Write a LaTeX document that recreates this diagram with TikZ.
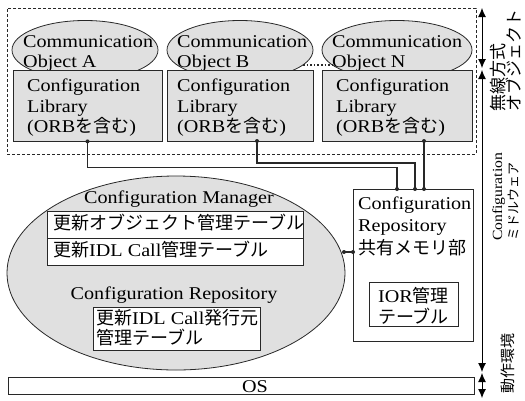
\documentclass[tikz,border=0pt]{standalone}
\usepackage{fontspec}
\setmainfont[FakeStretch=1.12]{Liberation Serif}
\newfontfamily\jpf{Noto Sans CJK JP}
\newcommand{\jp}[1]{{\jpf #1}}
\usetikzlibrary{shapes.geometric,arrows.meta}
\definecolor{hatch}{RGB}{224,224,224}
\definecolor{ink}{RGB}{40,40,40}
\begin{document}
\begin{tikzpicture}[x=1pt,y=-1pt,
  obj/.style={ellipse, draw=ink, fill=hatch, inner sep=0, line width=0.8pt},
  libbox/.style={rectangle, draw=ink, fill=hatch, inner sep=0, line width=0.8pt},
  wbox/.style={rectangle, draw=ink, fill=white, inner sep=0, line width=0.8pt},
  txt/.style={inner sep=0, anchor=base west, font=\fontsize{18}{21}\selectfont},
  ctxt/.style={inner sep=0, anchor=base, font=\fontsize{18}{21}\selectfont},
  conn/.style={draw=ink, line width=1.3pt},
  dot/.style={fill=ink},
  span/.style={draw=black, line width=0.9pt, {Latex[length=9pt,width=8pt]}-{Latex[length=9pt,width=8pt]}},
  side/.style={inner sep=0, rotate=90, anchor=base west}
]
\useasboundingbox (0,0) rectangle (525,400);
\fill[white] (0,0) rectangle (525,400);

% wireless object frame
\node[draw=ink, dashed, dash pattern=on 3pt off 2pt, line width=0.7pt, minimum width=469, minimum height=146, inner sep=0] (wl) at (241.5,81) {};

% communication objects
\node[obj, minimum width=146, minimum height=59] (eA) at (85,50) {};
\node[obj, minimum width=146, minimum height=59] (eB) at (240,50) {};
\node[obj, minimum width=150, minimum height=59] (eN) at (397,50) {};
\coordinate (dB) at (303,65);
\coordinate (dN) at (332,65);
\draw[ink, line width=1.6pt, dotted] (dB) -- (dN);

\node[txt] (tA1) at (23,47) {Communication};
\node[txt] (tA2) at (23,67) {Object A};
\node[txt] (tB1) at (177,47) {Communication};
\node[txt] (tB2) at (177,67) {Object B};
\node[txt] (tN1) at (332,47) {Communication};
\node[txt] (tN2) at (332,67) {Object N};

% configuration libraries
\node[libbox, minimum width=149, minimum height=71] (bA) at (87.5,105.5) {};
\node[libbox, minimum width=146, minimum height=71] (bB) at (240,105.5) {};
\node[libbox, minimum width=150, minimum height=71] (bN) at (397,105.5) {};
\node[txt] (lA1) at (27,91) {Configuration};
\node[txt] (lA2) at (27,112) {Library};
\node[txt] (lA3) at (27,132) {(ORB\jp{を含む})};
\node[txt] (lB1) at (177,91) {Configuration};
\node[txt] (lB2) at (177,112) {Library};
\node[txt] (lB3) at (177,132) {(ORB\jp{を含む})};
\node[txt] (lN1) at (336,91) {Configuration};
\node[txt] (lN2) at (336,112) {Library};
\node[txt] (lN3) at (336,132) {(ORB\jp{を含む})};

% configuration manager ellipse
\node[obj, minimum width=338, minimum height=194] (mgr) at (176,273) {};
\node[ctxt] (mgrT) at (179,203) {Configuration Manager};
\node[wbox, minimum width=256, minimum height=27] (t1) at (175,224.5) {};
\node[wbox, minimum width=256, minimum height=27] (t2) at (175,251.5) {};
\node[txt] (t1T) at (53,229) {\jp{更新オブジェクト管理テーブル}};
\node[txt] (t2T) at (53,256) {\jp{更新}IDL Call\jp{管理テーブル}};
\node[ctxt] (repT) at (174,299) {Configuration Repository};
\node[wbox, minimum width=167, minimum height=43] (t3) at (176.5,328.5) {};
\node[txt] (t3a) at (96,324) {\jp{更新}IDL Call\jp{発行元}};
\node[txt] (t3b) at (96,344) {\jp{管理テーブル}};

% shared memory repository
\node[wbox, minimum width=120, minimum height=152] (repo) at (413,265) {};
\node[txt] (r1) at (358,209) {Configuration};
\node[txt] (r2) at (358,231) {Repository};
\node[txt] (r3) at (358,254) {\jp{共有メモリ部}};
\node[wbox, minimum width=89, minimum height=44] (ior) at (413.5,304) {};
\node[ctxt] (ior1) at (413.5,302) {IOR\jp{管理}};
\node[ctxt] (ior2) at (413.5,323) {\jp{テーブル}};

% connectors
\coordinate (ra) at (397,189);
\coordinate (rb) at (415,189);
\coordinate (rc) at (424,189);
\coordinate (sB) at (257,141);
\coordinate (sN) at (424,141);
\coordinate (em) at (344,252);
\coordinate (rl) at (353,252);
\draw[conn] (bA.south) -- ++(0,26) -| (ra);
\draw[conn] (sB) -- ++(0,22) -| (rb);
\draw[conn] (sN) -- (rc);
\draw[conn] (em) -- (rl);
\foreach \p in {bA.south,sB,sN,ra,rb,rc,em,rl} \fill[dot] (\p) circle (2);

% OS
\node[wbox, minimum width=466, minimum height=17] (os) at (241,385.5) {};
\node[ctxt] (osT) at (255,392) {OS};

% right-hand spans
\coordinate (s0) at (482,8);
\coordinate (s1) at (482,68);
\coordinate (s2) at (482,70);
\coordinate (s3) at (482,372);
\coordinate (s4) at (482,373);
\coordinate (s5) at (482,398);
\draw[span] (s0) -- (s1);
\draw[span] (s2) -- (s3);
\draw[span] (s4) -- (s5);

\node[side, font=\fontsize{17}{17}\jpf] (L1a) at (504,112) {無線方式};
\node[side, font=\fontsize{17}{17}\jpf] (L1b) at (520,112) {オブジェクト};
\node[side, font=\fontsize{14}{14}\selectfont] (L2a) at (502,241) {Configuration};
\node[side, font=\fontsize{13}{13}\jpf] (L2b) at (518,241) {ミドルウェア};
\node[side, font=\fontsize{15}{15}\jpf] (L3) at (513,394) {動作環境};
\end{tikzpicture}
\end{document}
